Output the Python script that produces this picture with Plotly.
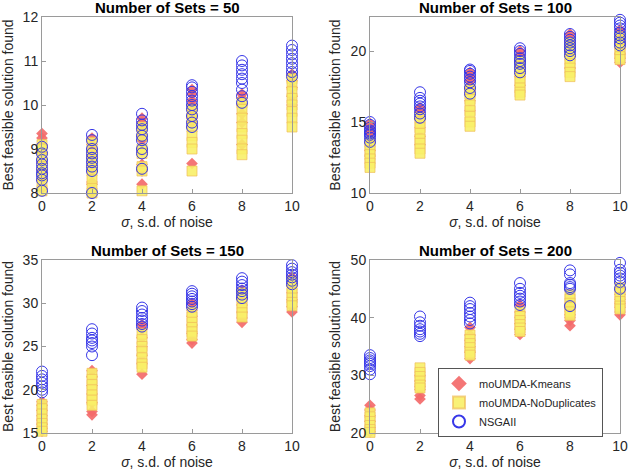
import plotly.graph_objects as go

sigma = [0, 2, 4, 6, 8, 10]
panel_titles = ["Number of Sets = 50", "Number of Sets = 100",
                "Number of Sets = 150", "Number of Sets = 200"]
series_names = ["moUMDA-Kmeans", "moUMDA-NoDuplicates", "NSGAII"]

# ---- Number of Sets = 50 ----
kmeans_50 = [
    [9.35, 9.25, 9.1, 8.9, 8.7, 8.5, 8.3, 8.1, 7.95],
    [9.25, 9.1, 8.95, 8.85, 8.7, 8.5, 8.25, 8.2, 8.0],
    [9.7, 9.6, 9.5, 9.3, 9.2, 8.95, 8.65, 8.5, 8.2],
    [10.35, 10.25, 10.1, 10.0, 9.9, 9.7, 9.6, 8.67],
    [10.25, 10.15, 10.0, 9.8, 9.6, 9.1],
    [10.7, 10.55, 10.4, 10.2, 10.0],
]
nodup_50 = [
    [9.1, 9.0, 8.8, 8.6, 8.4, 8.2, 8.05, 7.95],
    [9.15, 8.9, 8.7, 8.5, 8.3, 8.1, 8.0],
    [9.5, 9.3, 9.0, 8.9, 8.6, 8.5, 8.05],
    [9.9, 9.7, 9.5, 9.3, 9.15, 9.0, 8.5],
    [10.05, 9.9, 9.7, 9.5, 9.35, 9.2, 9.0, 8.87],
    [10.6, 10.45, 10.3, 10.15, 10.0, 9.85, 9.7, 9.5],
]
nsga_50 = [
    [9.05, 8.9, 8.75, 8.65, 8.55, 8.45, 8.4, 8.3, 8.05],
    [9.32, 9.2, 9.0, 8.9, 8.8, 8.7, 8.6, 8.5, 8.0],
    [9.8, 9.65, 9.55, 9.45, 9.3, 9.2, 9.0, 8.9, 8.55],
    [10.45, 10.4, 10.3, 10.2, 10.1, 10.0, 9.9, 9.75, 9.6, 9.5],
    [11.0, 10.9, 10.8, 10.7, 10.6, 10.5, 10.35, 10.2, 10.05],
    [11.35, 11.25, 11.15, 11.05, 10.95, 10.85, 10.75, 10.65],
]

# ---- Number of Sets = 100 ----
kmeans_100 = [
    [14.9, 14.6, 14.3, 14.2, 13.8, 13.0, 12.6],
    [16.0, 15.7, 15.4, 15.2, 14.6, 14.0, 13.4],
    [18.5, 18.2, 17.9, 17.5, 17.2, 16.5, 15.8],
    [20.0, 19.7, 19.4, 19.2, 18.9, 18.2, 17.6],
    [21.2, 20.9, 20.6, 20.3, 20.0, 19.6, 18.8],
    [21.5, 21.0, 20.6, 20.2, 19.8, 19.5, 19.2],
]
nodup_100 = [
    [13.6, 13.3, 13.0, 12.7, 12.4, 12.1, 11.8],
    [15.3, 15.0, 14.6, 14.2, 13.8, 13.5, 13.1, 12.8],
    [17.3, 17.0, 16.6, 16.2, 15.8, 15.4, 15.0, 14.7],
    [19.3, 18.9, 18.5, 18.1, 17.8, 17.4, 17.1, 16.9],
    [20.6, 20.3, 20.0, 19.7, 19.4, 19.1, 18.8, 18.5, 18.2],
    [21.0, 20.7, 20.4, 20.1, 19.8, 19.6, 19.4],
]
nsga_100 = [
    [15.0, 14.8, 14.6, 14.4, 14.3, 14.2, 14.1, 13.9, 13.6],
    [17.1, 16.7, 16.5, 16.3, 16.1, 15.9, 15.6, 15.3],
    [18.7, 18.6, 18.4, 18.2, 18.0, 17.8, 17.4, 17.0],
    [20.2, 20.0, 19.8, 19.5, 19.3, 19.1, 18.8, 18.5],
    [21.2, 21.0, 20.8, 20.6, 20.4, 20.2, 20.0, 19.7],
    [22.2, 22.0, 21.8, 21.6, 21.3, 21.1, 20.9, 20.6, 20.4],
]

# ---- Number of Sets = 150 ----
kmeans_150 = [
    [18.6, 18.2, 17.6, 17.0, 16.5, 16.0, 15.5, 15.2],
    [22.2, 21.5, 20.5, 19.5, 18.5, 17.5, 17.1],
    [27.5, 27.0, 26.0, 25.0, 24.0, 23.0, 21.8],
    [30.0, 29.2, 28.5, 27.5, 26.5, 25.8, 25.4],
    [31.5, 30.5, 29.8, 29.0, 28.3, 27.8],
    [33.0, 32.0, 31.2, 30.4, 29.6, 29.0],
]
nodup_150 = [
    [18.3, 17.8, 17.2, 16.6, 16.1, 15.6, 15.2],
    [21.9, 21.2, 20.6, 20.0, 19.4, 18.8, 18.2],
    [26.5, 25.8, 25.0, 24.4, 23.7, 23.0, 22.6],
    [29.0, 28.4, 27.8, 27.2, 26.7, 26.2],
    [31.2, 30.6, 30.0, 29.4, 28.9, 28.4],
    [32.5, 31.8, 31.2, 30.6, 30.1, 29.7],
]
nsga_150 = [
    [22.1, 21.6, 21.2, 20.8, 20.4, 20.0, 19.7],
    [27.0, 26.5, 26.0, 25.7, 25.4, 25.0, 24.0],
    [29.5, 29.1, 28.7, 28.3, 28.0, 27.6, 27.3],
    [31.4, 31.1, 30.8, 30.5, 30.2, 29.9, 29.6],
    [32.9, 32.5, 32.1, 31.7, 31.4, 31.0, 30.6],
    [34.4, 34.0, 33.6, 33.3, 33.0, 32.6, 32.2],
]

# ---- Number of Sets = 200 ----
kmeans_200 = [
    [24.8, 24.0, 23.0, 22.0, 21.0, 20.2],
    [30.0, 29.0, 28.0, 27.5, 26.5, 25.9],
    [38.3, 37.0, 36.0, 35.0, 34.0, 32.9],
    [42.2, 41.0, 40.0, 39.0, 38.0, 37.1],
    [42.3, 41.5, 40.5, 40.0, 39.5, 38.6],
    [44.0, 43.2, 42.5, 41.8, 41.0, 40.5],
]
nodup_200 = [
    [23.5, 22.8, 22.0, 21.3, 20.6, 20.1],
    [31.3, 30.5, 29.8, 29.0, 28.3, 27.8],
    [37.0, 36.2, 35.5, 34.8, 34.0, 33.5],
    [41.0, 40.2, 39.5, 38.8, 38.2, 37.6],
    [44.0, 43.2, 42.5, 41.8, 41.0, 40.4],
    [45.2, 44.3, 43.5, 42.8, 42.0, 41.5],
]
nsga_200 = [
    [33.5, 33.0, 32.6, 32.3, 32.0, 31.6, 31.0, 30.2],
    [40.2, 39.2, 38.6, 38.0, 37.6, 37.2, 36.8],
    [42.6, 42.0, 41.5, 40.8, 40.2, 39.6, 39.0],
    [46.0, 45.0, 44.3, 43.8, 43.3, 42.8, 42.2],
    [48.2, 47.5, 46.0, 45.7, 45.3, 45.0, 42.0],
    [49.5, 48.3, 47.8, 47.3, 46.8, 46.2, 45.0],
]

y_ranges = [[8, 12], [10, 22.4], [15, 35], [20, 50]]
y_ticks = [[8, 9, 10, 11, 12], [10, 15, 20], [15, 20, 25, 30, 35], [20, 30, 40, 50]]

panels = [
    (kmeans_50, nodup_50, nsga_50),
    (kmeans_100, nodup_100, nsga_100),
    (kmeans_150, nodup_150, nsga_150),
    (kmeans_200, nodup_200, nsga_200),
]

W, H = 631, 474
def fx(p):
    return p / W
def fy(p):
    return 1 - p / H

x_doms = [[fx(42), fx(292)], [fx(370), fx(620)], [fx(42), fx(292)], [fx(370), fx(620)]]
y_doms = [[fy(193), fy(17)], [fy(193), fy(17)], [fy(433), fy(260)], [fy(433), fy(260)]]

styles = [
    dict(symbol="diamond", size=9, color="rgba(243,106,106,0.92)",
         line=dict(width=0)),
    dict(symbol="square", size=10, color="rgba(248,240,104,0.9)",
         line=dict(width=1, color="rgba(240,190,90,0.7)")),
    dict(symbol="circle-open", size=11, color="rgb(55,55,232)",
         line=dict(width=1, color="rgb(55,55,232)")),
]

fig = go.Figure()
for pi, groups in enumerate(panels):
    xa = "x" if pi == 0 else f"x{pi+1}"
    ya = "y" if pi == 0 else f"y{pi+1}"
    for si, grp in enumerate(groups):
        xs = [sigma[k] for k, vals in enumerate(grp) for _ in vals]
        ys = [v for vals in grp for v in vals]
        fig.add_trace(go.Scatter(
            x=xs, y=ys, mode="markers", name=series_names[si],
            marker=styles[si], xaxis=xa, yaxis=ya, cliponaxis=False,
            showlegend=(pi == 3),
        ))

axis_common = dict(
    showline=True, mirror=True, linecolor="#9a9a9a", linewidth=1,
    ticks="inside", ticklen=4, tickcolor="#9a9a9a", showgrid=False,
    zeroline=False, automargin=False,
    tickfont=dict(family="Liberation Sans, Arial", size=14, color="#262626"),
)

layout = dict(
    width=W, height=H, margin=dict(l=0, r=0, t=0, b=0, autoexpand=False),
    paper_bgcolor="white", plot_bgcolor="white",
    font=dict(family="Liberation Sans, Arial", color="#262626"),
    legend=dict(x=fx(438), y=fy(368), xanchor="left", yanchor="top",
                bgcolor="white", bordercolor="#555555", borderwidth=1,
                font=dict(size=11, color="#262626"), tracegroupgap=0,
                itemsizing="constant", itemwidth=30),
)
annotations = []
for pi in range(4):
    xk = "xaxis" if pi == 0 else f"xaxis{pi+1}"
    yk = "yaxis" if pi == 0 else f"yaxis{pi+1}"
    ya = "y" if pi == 0 else f"y{pi+1}"
    xa = "x" if pi == 0 else f"x{pi+1}"
    layout[xk] = dict(axis_common, domain=x_doms[pi], range=[0, 10],
                      tickvals=sigma, anchor=ya,
                      title=dict(text="<i>σ</i>, s.d. of noise",
                                 font=dict(size=14, color="#262626"), standoff=4))
    layout[yk] = dict(axis_common, domain=y_doms[pi], range=y_ranges[pi],
                      tickvals=y_ticks[pi], anchor=xa,
                      title=dict(text="Best feasible solution found",
                                 font=dict(size=14, color="#262626"), standoff=6))
    annotations.append(dict(
        text=f"<b>{panel_titles[pi]}</b>", showarrow=False,
        x=(x_doms[pi][0] + x_doms[pi][1]) / 2, y=y_doms[pi][1],
        xref="paper", yref="paper", xanchor="center", yanchor="bottom",
        yshift=-1, font=dict(size=15, color="#000000"),
    ))
layout["annotations"] = annotations
fig.update_layout(**layout)

fig.write_html(
    "out.html",
    config={"displayModeBar": False},
    post_script="document.body.style.margin='0';document.body.style.overflow='hidden';",
)
